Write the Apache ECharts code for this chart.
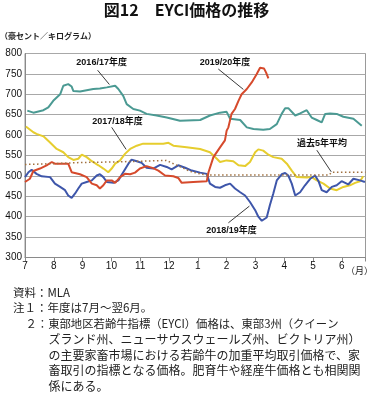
<!DOCTYPE html>
<html><head><meta charset="utf-8">
<script src="https://cdn.jsdelivr.net/npm/echarts@6/dist/echarts.min.js"></script>
<style>html,body{margin:0;padding:0;background:#fff}#c{width:373px;height:397px}</style>
</head><body><div id="c"></div>
<script>
// ---- data (x = months since 1 July, y = AUc/kg) ----
const monthLabels = ['7','8','9','10','11','12','1','2','3','4','5','6'];

const fy1617_x = [0.08,0.29,0.64,0.81,0.98,1.1,1.22,1.33,1.5,1.62,1.68,1.91,2.14,2.37,2.6,2.84,3.13,3.24,3.41,3.53,3.76,3.99,4.22,4.57,4.92,5.38,6.08,6.42,6.77,7.0,7.12,7.47,7.7,7.93,8.27,8.5,8.74,8.91,9.03,9.14,9.38,9.55,9.78,9.95,10.13,10.3,10.42,10.59,10.82,11.05,11.4,11.69];
const fy1617_y = [660,655,661,668,684,692,700,721,725,719,708,707,710,713,714,717,721,713,696,676,664,660,652,648,643,635,637,648,655,657,640,637,619,615,613,615,627,652,666,666,648,653,661,643,637,631,652,653,652,645,640,623];

const fy1718_x = [0.03,0.29,0.4,0.64,0.87,1.1,1.33,1.5,1.68,1.85,1.97,2.14,2.32,2.55,2.72,2.89,3.01,3.13,3.3,3.47,3.65,3.88,4.1,4.57,4.8,4.98,5.15,5.61,6.08,6.42,6.66,6.77,7.0,7.23,7.41,7.64,7.81,7.99,8.1,8.27,8.45,8.62,8.91,9.09,9.26,9.43,9.78,9.95,10.13,10.36,10.59,10.82,11.05,11.28,11.46,11.63,11.74];
const fy1718_y = [621,607,603,597,582,566,558,546,539,542,552,546,536,526,518,509,518,530,538,554,566,574,579,579,579,581,574,570,566,558,542,534,538,536,526,524,534,558,565,562,552,546,542,530,513,497,496,497,489,481,469,465,473,477,483,487,499];

const fy1819_x = [0,0.12,0.23,0.4,0.58,0.87,1.04,1.22,1.39,1.5,1.62,1.74,1.85,1.97,2.14,2.32,2.49,2.6,2.72,2.84,3.07,3.24,3.41,3.59,3.7,3.88,4.05,4.22,4.45,4.69,4.92,5.09,5.32,5.56,5.79,6.08,6.31,6.42,6.6,6.77,6.94,7.12,7.29,7.47,7.64,7.81,7.99,8.1,8.22,8.39,8.5,8.62,8.74,8.91,9.03,9.14,9.26,9.38,9.55,9.72,9.9,10.07,10.19,10.3,10.47,10.65,10.82,10.99,11.22,11.4,11.63,11.8];
const fy1819_y = [497,509,515,505,499,497,481,473,465,452,446,457,469,481,485,489,501,504,497,485,483,489,509,530,540,536,532,520,518,527,522,516,526,520,513,508,505,481,473,471,477,481,469,460,452,436,416,400,390,398,428,457,489,504,507,501,481,452,460,477,493,501,487,465,460,473,477,487,479,493,489,485];

const fy1920_x = [0,0.17,0.29,0.52,0.75,0.93,1.04,1.33,1.5,1.62,1.91,2.14,2.32,2.49,2.6,2.72,2.84,3.01,3.13,3.3,3.47,3.65,3.82,3.99,4.22,4.45,4.63,4.86,5.15,5.32,5.44,5.84,6.31,6.37,6.54,6.77,6.94,7.0,7.06,7.17,7.29,7.41,7.52,7.7,7.87,8.04,8.16,8.3,8.37,8.45];
const fy1920_y = [485,493,512,518,526,534,530,530,530,509,504,497,481,477,469,477,489,489,483,497,505,504,508,518,524,519,513,501,499,495,483,485,487,509,546,570,587,611,619,652,664,684,700,713,729,749,765,763,753,739];

const avg5_x = [0,1.0,2.0,3.0,4.0,4.9,5.4,5.73,6.08,6.3,10.55,10.65,11.82];
const avg5_y = [528,530,533,534,536,538,522,511,505,502,502,509,509];

const seriesNames = ['2016/17年度','2017/18年度','2018/19年度','2019/20年度','過去5年平均'];

// ---- styling / layout ----
const FONT = "'Liberation Sans','Noto Sans CJK JP',sans-serif";
const CJK = "'Noto Sans CJK JP','Liberation Sans',sans-serif";
const zip = (xs, ys) => xs.map((x, i) => [x, ys[i]]);

const chart = echarts.init(document.getElementById('c'), null, {renderer: 'canvas'});

function lineSeries(name, xs, ys, color, extra) {
  return Object.assign({
    name, type: 'line', data: zip(xs, ys), showSymbol: false, symbol: 'none',
    animation: false, lineStyle: {color, width: 2}, itemStyle: {color}
  }, extra || {});
}

chart.setOption({
  animation: false,
  backgroundColor: '#fff',
  grid: {left: 25, right: 7.5, top: 53.5, bottom: 139.5, show: true, borderColor: '#9a9a9a', borderWidth: 1},
  xAxis: {
    type: 'value', min: 0, max: 11.82, interval: 1,
    axisLine: {show: true, lineStyle: {color: '#8a8a8a', width: 1}},
    axisTick: {show: true, length: 4, lineStyle: {color: '#8a8a8a'}},
    splitLine: {show: false},
    axisLabel: {
      margin: 4, fontSize: 10, color: '#111', fontFamily: FONT,
      formatter: v => {
        const r = Math.round(v);
        return (Math.abs(v - r) < 0.01 && r < monthLabels.length) ? monthLabels[r] : '';
      }
    }
  },
  yAxis: {
    type: 'value', min: 300, max: 800, interval: 50,
    axisLine: {show: true, lineStyle: {color: '#8a8a8a'}},
    axisTick: {show: false},
    splitLine: {show: true, lineStyle: {color: '#a8a8a8', width: 1}},
    axisLabel: {margin: 3, fontSize: 10, color: '#111', fontFamily: FONT}
  },
  series: [
    lineSeries(seriesNames[0], fy1617_x, fy1617_y, '#4b9a93'),
    lineSeries(seriesNames[1], fy1718_x, fy1718_y, '#e6cd2e'),
    lineSeries(seriesNames[2], fy1819_x, fy1819_y, '#3e56aa'),
    lineSeries(seriesNames[3], fy1920_x, fy1920_y, '#d64a2c'),
    lineSeries(seriesNames[4], avg5_x, avg5_y, '#a0703f', {lineStyle: {color: '#a0703f', width: 1.5, type: [1.5, 2.5]}})
  ]
});

// ---- annotations anchored in data space ----
const annoTextPos = [[2.66, 779], [3.21, 633], [7.17, 366], [6.94, 778], [10.31, 579]];
const annoLines = [
  [[2.52, 759], [2.93, 724]],
  [[3.01, 619], [3.51, 565]],
  [[7.06, 385], [7.79, 426]],
  [[6.71, 762], [7.58, 712]],
  [[10.13, 563], [10.63, 510]]
];
const px = p => chart.convertToPixel({gridIndex: 0}, p);
const graphics = [];
annoTextPos.forEach((p, i) => {
  const q = px(p);
  graphics.push({type: 'text', x: q[0], y: q[1], z: 100,
    style: {text: seriesNames[i], fill: '#111', font: 'bold 9px ' + FONT, textAlign: 'center', textVerticalAlign: 'middle'}});
  const a = px(annoLines[i][0]), b = px(annoLines[i][1]);
  graphics.push({type: 'line', z: 100, shape: {x1: a[0], y1: a[1], x2: b[0], y2: b[1]}, style: {stroke: '#222', lineWidth: 0.9}});
});

// ---- titles and notes ----
graphics.push({type: 'text', x: 186.5, y: 10, style: {text: '図12　EYCI価格の推移', fill: '#111', font: 'bold 16px ' + CJK, textAlign: 'center', textVerticalAlign: 'middle'}});
graphics.push({type: 'text', x: 0, y: 36, style: {text: '（豪セント／キログラム）', fill: '#222', font: 'bold 8px ' + CJK, textAlign: 'left', textVerticalAlign: 'middle'}});
graphics.push({type: 'text', x: 373, y: 271, style: {text: '（月）', fill: '#222', font: '9px ' + CJK, textAlign: 'right', textVerticalAlign: 'middle'}});

const notes = [
  [13, 293, '資料：MLA', 11.5],
  [13, 307.5, '注１：年度は7月～翌6月。', 11.5],
  [25.5, 323.5, '２：東部地区若齢牛指標（EYCI）価格は、東部3州（クイーン', 11.35],
  [48.5, 339.5, 'ズランド州、ニューサウスウェールズ州、ビクトリア州）', 12],
  [48.5, 355, 'の主要家畜市場における若齢牛の加重平均取引価格で、家', 12],
  [48.5, 370.5, '畜取引の指標となる価格。肥育牛や経産牛価格とも相関関', 12],
  [48.5, 386, '係にある。', 12]
];
notes.forEach(n => graphics.push({type: 'text', x: n[0], y: n[1],
  style: {text: n[2], fill: '#222', font: n[3] + 'px ' + CJK, textAlign: 'left', textVerticalAlign: 'middle'}}));

chart.setOption({graphic: graphics});
</script></body></html>
